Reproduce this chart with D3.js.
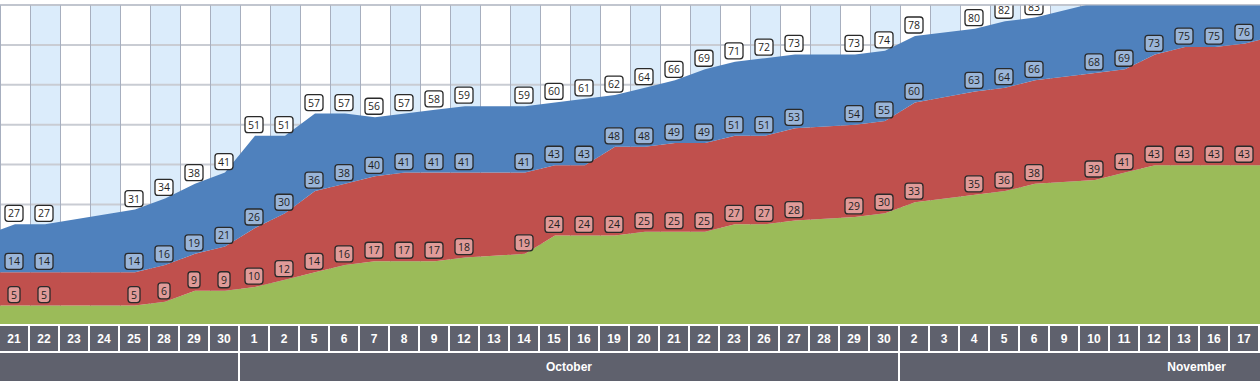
<!DOCTYPE html>
<html>
<head>
<meta charset="utf-8">
<script src="https://cdn.jsdelivr.net/npm/d3@7"></script>
<style>
  html, body { margin: 0; padding: 0; background: #fff; }
  svg { display: block; }
</style>
</head>
<body>
<svg id="chart" width="1260" height="381"></svg>
<script>
// first and last entries are the points just outside the visible window
const days = ["18", "21", "22", "23", "24", "25", "28", "29", "30",
  "1", "2", "5", "6", "7", "8", "9", "12", "13", "14", "15", "16", "19", "20", "21", "22", "23", "26", "27", "28", "29", "30",
  "2", "3", "4", "5", "6", "9", "10", "11", "12", "13", "16", "17", "18"];
const monthNames = ["September", "October", "November"];
const monthCounts = [9, 22, 13];

// cumulative (stacked) totals, as printed on the labels
const greenTotals = [5, 5, 5, null, null, 5, 6, 9, 9,
  10, 12, 14, 16, 17, 17, 17, 18, null, 19, 24, 24, 24, 25, 25, 25, 27, 27, 28, null, 29, 30,
  33, null, 35, 36, 38, null, 39, 41, 43, 43, 43, 43, 43];
const redTotals = [14, 14, 14, null, null, 14, 16, 19, 21,
  26, 30, 36, 38, 40, 41, 41, 41, null, 41, 43, 43, 48, 48, 49, 49, 51, 51, 53, null, 54, 55,
  60, null, 63, 64, 66, null, 68, 69, 73, 75, 75, 76, 78];
const blueTotals = [24, 27, 27, null, null, 31, 34, 38, 41,
  51, 51, 57, 57, 56, 57, 58, 59, null, 59, 60, 61, 62, 64, 66, 69, 71, 72, 73, null, 73, 74,
  78, null, 80, 82, 83, null, 87, 89, 92, 94, 95, 97, 99];

const width = 1260;
const plotTop = 5, plotBottom = 324;
const axisTop = 326, axisRow = 25, monthTop = 353;

const svg = d3.select("#chart");

const x = d3.scaleLinear().domain([0.5, days.length - 1.5]).range([0, width]);
const y = d3.scaleLinear().domain([0, 86.4]).range([plotBottom, plotTop]);

svg.append("clipPath").attr("id", "plotclip")
  .append("rect").attr("x", 0).attr("y", plotTop).attr("width", width).attr("height", plotBottom - plotTop);

const visible = d3.range(1, days.length - 1);

// column bands
const grid = svg.append("g");
grid.selectAll(".band")
  .data(visible)
  .join("rect")
  .attr("class", "band")
  .attr("x", i => x(i - 0.5))
  .attr("y", plotTop)
  .attr("width", x(1) - x(0))
  .attr("height", plotBottom - plotTop)
  .attr("fill", i => (i % 2 === 0 ? "#dbecfb" : "#ffffff"));

grid.selectAll(".hline")
  .data(d3.range(1, 9).map(k => k * 86.4 / 8))
  .join("line")
  .attr("class", "hline")
  .attr("x1", 0).attr("x2", width)
  .attr("y1", d => y(d)).attr("y2", d => y(d))
  .attr("stroke", "#c9ccd3")
  .attr("stroke-width", 2);

grid.selectAll(".vline")
  .data(visible)
  .join("line")
  .attr("class", "vline")
  .attr("x1", i => x(i - 0.5) + 0.5).attr("x2", i => x(i - 0.5) + 0.5)
  .attr("y1", plotTop).attr("y2", plotBottom)
  .attr("stroke", "#a7afbf")
  .attr("stroke-width", 1);

// stacked areas
const zeros = days.map(() => 0);
const layers = [
  { lo: zeros, hi: greenTotals, fill: "#9bbb59", label: "#e09b99" },
  { lo: greenTotals, hi: redTotals, fill: "#c0504d", label: "#9ab5d8" },
  { lo: redTotals, hi: blueTotals, fill: "#4f81bd", label: "#ffffff" }
];

const area = d3.area()
  .x(d => x(d.i))
  .y0(d => y(d.lo))
  .y1(d => y(d.hi));

const areas = svg.append("g").attr("clip-path", "url(#plotclip)");
layers.forEach(layer => {
  const pts = days.map((d, i) => ({ i: i, lo: layer.lo[i], hi: layer.hi[i] }))
    .filter(p => p.hi !== null);
  areas.append("path")
    .datum(pts)
    .attr("d", area)
    .attr("fill", layer.fill);
});

// value labels (those that fall fully above the plot are not drawn)
const labels = svg.append("g").attr("clip-path", "url(#plotclip)");
const boxH = 16;
layers.forEach(layer => {
  visible.filter(i => layer.hi[i] !== null && y(layer.hi[i]) - 3 > plotTop).forEach(i => {
    const cx = x(i) - 1;
    const cy = y(layer.hi[i]) - 3 - boxH / 2;
    const g = labels.append("g");
    const box = g.append("rect");
    const t = g.append("text")
      .attr("x", cx)
      .attr("y", cy + 4)
      .attr("text-anchor", "middle")
      .attr("font-family", "Open Sans, sans-serif")
      .attr("font-size", 10.5)
      .attr("fill", "#1e1e1e")
      .text(layer.hi[i]);
    const w = t.node().getComputedTextLength() + 6;
    box.attr("x", cx - w / 2)
      .attr("y", cy - boxH / 2)
      .attr("width", w)
      .attr("height", boxH)
      .attr("rx", 3)
      .attr("fill", layer.label)
      .attr("stroke", "#2a2a2a")
      .attr("stroke-width", 1.3);
  });
});

svg.append("line")
  .attr("x1", 0).attr("x2", width)
  .attr("y1", plotTop).attr("y2", plotTop)
  .attr("stroke", "#b9bfca");

// day axis
const axisFont = "'Liberation Sans Narrow', 'Liberation Sans', sans-serif";
const dayAxis = svg.append("g");
dayAxis.selectAll("rect")
  .data(visible)
  .join("rect")
  .attr("x", i => x(i - 0.5))
  .attr("y", axisTop)
  .attr("width", 28)
  .attr("height", axisRow)
  .attr("fill", "#5f616d");
dayAxis.selectAll("text")
  .data(visible)
  .join("text")
  .attr("x", i => x(i) - 1)
  .attr("y", axisTop + 17)
  .attr("text-anchor", "middle")
  .attr("font-family", axisFont)
  .attr("font-weight", "bold")
  .attr("font-size", 12)
  .attr("fill", "#ffffff")
  .text(i => days[i]);

// month axis
let start = 0;
const monthSegs = monthNames.map((m, k) => {
  const seg = { name: m, a: start, b: start + monthCounts[k] - 1 };
  start += monthCounts[k];
  return seg;
});
monthSegs.forEach(s => {
  s.x0 = x(s.a - 0.5);
  s.x1 = x(s.b + 0.5) - 2;
});

const monthAxis = svg.append("g");
monthAxis.selectAll("rect")
  .data(monthSegs)
  .join("rect")
  .attr("x", s => Math.max(0, s.x0))
  .attr("y", monthTop)
  .attr("width", s => Math.min(width, s.x1) - Math.max(0, s.x0))
  .attr("height", 381 - monthTop)
  .attr("fill", "#5f616d");
monthAxis.selectAll("text")
  .data(monthSegs.filter(s => s.x0 >= 0))
  .join("text")
  .attr("x", s => (s.x1 > width ? width - 34 : (s.x0 + s.x1) / 2))
  .attr("y", monthTop + 18)
  .attr("text-anchor", s => (s.x1 > width ? "end" : "middle"))
  .attr("font-family", axisFont)
  .attr("font-weight", "bold")
  .attr("font-size", 12)
  .attr("fill", "#ffffff")
  .text(s => s.name);
</script>
</body>
</html>
